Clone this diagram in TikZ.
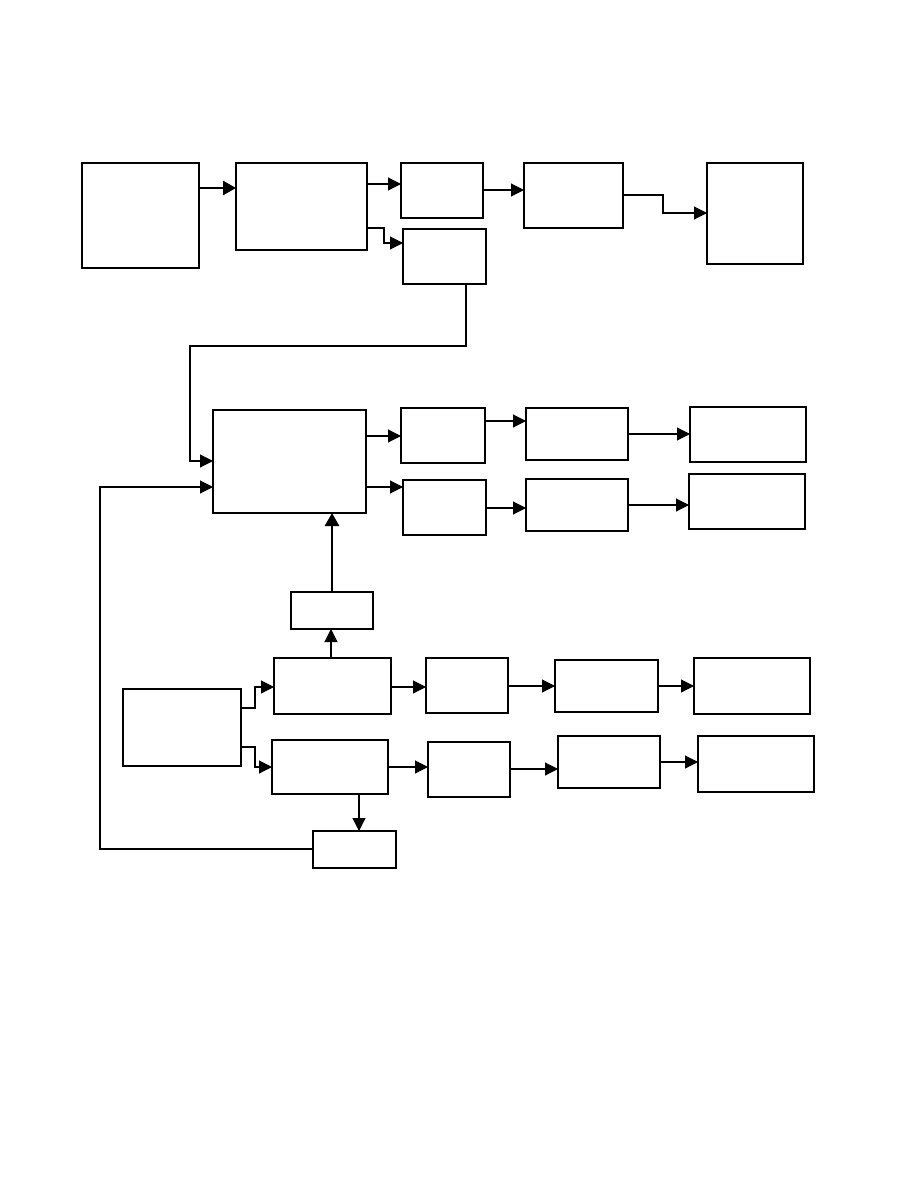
\documentclass[tikz,border=0pt]{standalone}
\usetikzlibrary{arrows.meta}
\tikzset{
  box/.style={draw, line width=1.1pt, inner sep=0pt, outer sep=0pt},
  arr/.style={line width=1.1pt, -{Triangle[length=13pt,width=13pt]}},
  tarr/.style={line width=2.6pt, -{Triangle[length=13pt,width=14pt]}},
  heavy/.style={line width=2.6pt}
}
\newcommand\bx[5]{\node[box, minimum width={#4-#2}, minimum height={#5-#3}] (#1) at ({(#2+#4)/2},{(#3+#5)/2}) {};}
\begin{document}
\begin{tikzpicture}[x=1pt,y=-1pt]
\useasboundingbox[fill=white] (0,0) rectangle (918,1188);
\bx{A}{82}{163}{199}{268}
\bx{B}{236}{163}{367}{250}
\bx{C}{401}{163}{483}{218}
\bx{D}{403}{229}{486}{284}
\bx{E}{524}{163}{623}{228}
\bx{F}{707}{163}{803}{264}
\bx{G}{213}{410}{366}{513}
\bx{H}{401}{408}{485}{463}
\bx{I}{403}{480}{486}{535}
\bx{J}{526}{408}{628}{460}
\bx{K}{690}{407}{806}{462}
\bx{L}{526}{479}{628}{531}
\bx{M}{689}{474}{805}{529}
\bx{N}{291}{592}{373}{629}
\bx{O}{123}{689}{241}{766}
\bx{P}{313}{831}{396}{868}
\bx{Q}{274}{658}{391}{714}
\bx{R}{272}{740}{388}{794}
\bx{S}{426}{658}{508}{713}
\bx{T}{555}{660}{658}{712}
\bx{U}{694}{658}{810}{714}
\bx{V}{428}{742}{510}{797}
\bx{W}{558}{736}{660}{788}
\bx{X}{698}{736}{814}{792}
% heavier edges
\draw[heavy] (D.north east) -- (D.south east);
\draw[heavy] (I.north east) -- (I.south east);
\draw[heavy] (G.south west) -- (G.south east);
\draw[heavy] (N.south west) -- (N.south east);
\draw[heavy] (L.south west) -- (L.south east);
\draw[heavy] (U.north east) -- (U.south east);
\draw[heavy] (W.north west) -- (W.south west);
\draw[heavy] (X.south west) -- (X.south east);
\draw[line width=2pt] (P.north east) -- (P.south east);
% connectors top
\draw[tarr] (A.east |- 0,188) -- (B.west |- 0,188);
\draw[arr] (B.east |- 0,184) -- (C.west |- 0,184);
\draw[arr] (B.east |- 0,228) -| (384,243) -- (D.west |- 0,243);
\draw[line width=2.4pt] (384,243) -- (392,243);
\draw[arr] (C.east |- 0,190) -- (E.west |- 0,190);
\draw[arr] (E.east |- 0,195) -| (663,213) -- (F.west |- 0,213);
\draw[arr] (D.south -| 466,0) |- (190,346) |- (G.west |- 0,461);
% middle
\draw[arr] (G.east |- 0,436) -- (H.west |- 0,436);
\draw[arr] (G.east |- 0,487) -- (I.west |- 0,487);
\draw[arr] (H.east |- 0,421) -- (J.west |- 0,421);
\draw[arr] (J.east |- 0,434) -- (K.west |- 0,434);
\draw[arr] (I.east |- 0,508) -- (L.west |- 0,508);
\draw[arr] (L.east |- 0,505) -- (M.west |- 0,505);
\draw[tarr] (N.north -| 332,0) -- (G.south -| 332,0);
% bottom
\draw[arr] (Q.north -| 331,0) -- (N.south -| 331,0);
\draw[arr] (O.east |- 0,708) -| (255,687) -- (Q.west |- 0,687);
\draw[arr] (O.east |- 0,747) -| (255,767) -- (R.west |- 0,767);
\draw[line width=2.4pt] (O.east |- 0,747) -- (255,747);
\draw[arr] (R.south -| 359,0) -- (P.north -| 359,0);
\draw[arr] (P.west |- 0,849) -| (100,487) -- (G.west |- 0,487);
\draw[arr] (Q.east |- 0,687) -- (S.west |- 0,687);
\draw[arr] (S.east |- 0,686) -- (T.west |- 0,686);
\draw[arr] (T.east |- 0,686) -- (U.west |- 0,686);
\draw[arr] (R.east |- 0,767) -- (V.west |- 0,767);
\draw[arr] (V.east |- 0,769) -- (W.west |- 0,769);
\draw[arr] (W.east |- 0,762) -- (X.west |- 0,762);
\end{tikzpicture}
\end{document}
